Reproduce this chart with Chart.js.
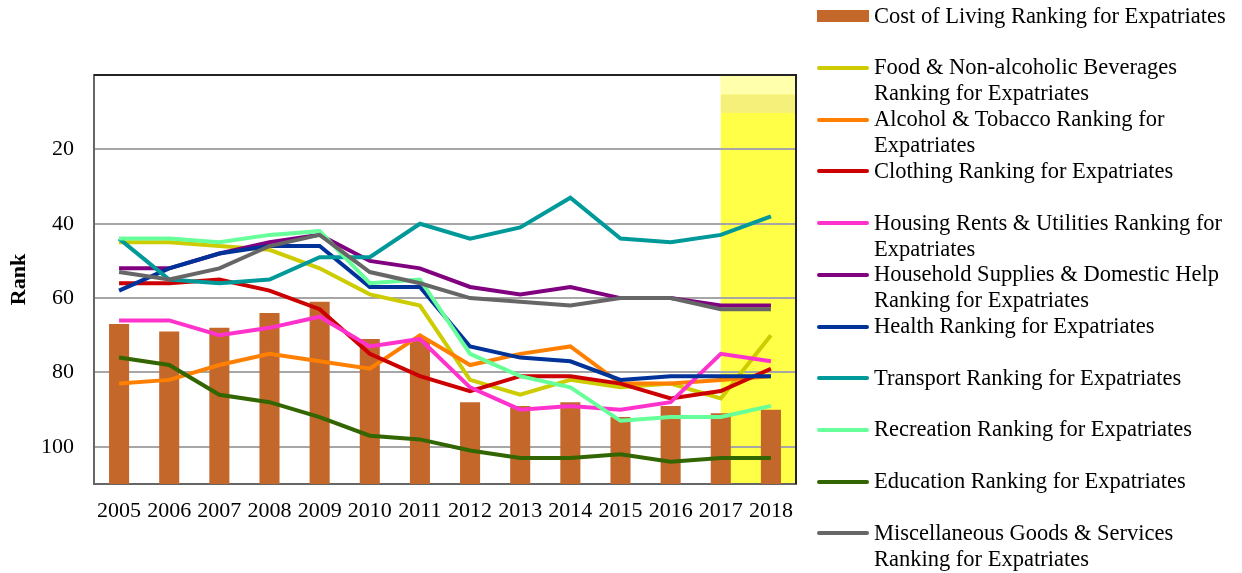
<!DOCTYPE html>
<html><head><meta charset="utf-8">
<script src="https://cdn.jsdelivr.net/npm/chart.js@4.4.1/dist/chart.umd.min.js"></script>
<style>
html,body{margin:0;padding:0;background:#fff;}
#wrap{position:relative;width:1242px;height:573px;overflow:hidden;}
canvas{position:absolute;left:0;top:0;}
.lg{position:absolute;left:874px;font-family:"Liberation Serif","Times New Roman",serif;font-size:22.5px;line-height:26px;color:#000;white-space:nowrap;}
.sw{position:absolute;left:817px;width:52px;height:4px;border-radius:2px;}
</style></head><body>
<div id="wrap"><canvas id="c" width="1242" height="573"></canvas><div id="legend"></div></div>
<script>
const years = ['2005','2006','2007','2008','2009','2010','2011','2012','2013','2014','2015','2016','2017','2018'];
const costOfLiving = [67,69,68,64,61,71,71,88,89,88,92,89,91,90];
const food       = [45,45,46,47,52,59,62,82,86,82,84,83,87,70];
const alcohol    = [83,82,78,75,77,79,70,78,75,73,83,83,82,81];
const clothing   = [56,56,55,58,63,75,81,85,81,81,83,87,85,79];
const housing    = [66,66,70,68,65,73,71,84,90,89,90,88,75,77];
const household  = [52,52,48,45,43,50,52,57,59,57,60,60,62,62];
const health     = [58,52,48,46,46,57,57,73,76,77,82,81,81,81];
const transport  = [44,55,56,55,49,49,40,44,41,33,44,45,43,38];
const recreation = [44,44,45,43,42,56,55,75,81,84,93,92,92,89];
const education  = [76,78,86,88,92,97,98,101,103,103,102,104,103,103];
const misc       = [53,55,52,46,43,53,56,60,61,62,60,60,63,63];
const yTicks = [20,40,60,80,100];
const highlightFrom = '2017';

const barLabel = 'Cost of Living Ranking for Expatriates';
const lineLabels = [
  'Food & Non-alcoholic Beverages\nRanking for Expatriates',
  'Alcohol & Tobacco Ranking for\nExpatriates',
  'Clothing Ranking for Expatriates',
  'Housing Rents & Utilities Ranking for\nExpatriates',
  'Household Supplies & Domestic Help\nRanking for Expatriates',
  'Health Ranking for Expatriates',
  'Transport Ranking for Expatriates',
  'Recreation Ranking for Expatriates',
  'Education Ranking for Expatriates',
  'Miscellaneous Goods & Services\nRanking for Expatriates'
];
const lineSeries = [food, alcohol, clothing, housing, household, health, transport, recreation, education, misc];
const lineColors = ['#cccc00','#ff8000','#cc0000','#ff33cc','#800080','#003399','#009999','#66ff99','#336600','#666666'];
const barColor = '#c4672b';

const FONT = '"Liberation Serif","Times New Roman",serif';
Chart.defaults.font.family = FONT;
Chart.defaults.color = '#000';

const datasets = [{
  type:'bar', label: barLabel,
  data: costOfLiving.map(v => [110, v]),
  backgroundColor: barColor, borderWidth: 0,
  barPercentage: 0.4, categoryPercentage: 1.0, order: 100
}];
lineSeries.forEach((s, i) => {
  datasets.push({
    type:'line', label: lineLabels[i].replace('\n',' '), data: s,
    borderColor: lineColors[i], backgroundColor: lineColors[i],
    borderWidth: 4, pointRadius: 0, tension: 0, fill: false,
    order: 50 - i, borderJoinStyle: 'miter'
  });
});

const highlight = {
  id: 'hl',
  beforeDraw(chart) {
    const {ctx, chartArea: a, scales: {x, y}} = chart;
    const x0 = x.getPixelForValue(years.indexOf(highlightFrom));
    ctx.save();
    ctx.fillStyle = '#ffff47';
    ctx.fillRect(x0, a.top, a.right - x0, a.bottom - a.top);
    const y5 = y.getPixelForValue(5.3), y10 = y.getPixelForValue(10.2);
    ctx.fillStyle = '#ffffac';
    ctx.fillRect(x0, a.top, a.right - x0, y5 - a.top);
    ctx.fillStyle = '#f5f07a';
    ctx.fillRect(x0, y5, a.right - x0, y10 - y5);
    ctx.restore();
  },
  beforeDatasetsDraw(chart) {
    const {ctx, chartArea: a} = chart;
    ctx.save();
    ctx.strokeStyle = '#222';
    ctx.lineWidth = 2;
    ctx.beginPath();
    ctx.moveTo(a.left, a.top);
    ctx.lineTo(a.right, a.top);
    ctx.lineTo(a.right, a.bottom);
    ctx.stroke();
    ctx.restore();
  }
};

new Chart(document.getElementById('c'), {
  data: { labels: years, datasets },
  options: {
    responsive: false, animation: false,
    layout: { padding: { top: 75, right: 446, left: 0, bottom: 0 } },
    plugins: { legend: { display: false }, tooltip: { enabled: false } },
    scales: {
      x: {
        offset: true,
        grid: { display: false, drawTicks: false },
        border: { color: '#666', width: 2 },
        ticks: { padding: 14, font: { size: 22 }, color: '#000', maxRotation: 0, autoSkip: false },
        afterFit: s => { s.height = 89; }
      },
      y: {
        reverse: true, min: 0, max: 110,
        afterBuildTicks: s => { s.ticks = yTicks.map(v => ({ value: v })); },
        afterFit: s => { s.width = 94; },
        grid: { color: '#a6a6a6', lineWidth: 2, drawTicks: false },
        border: { color: '#666', width: 2 },
        ticks: { padding: 20, color: '#000', font: { size: 22 } },
        title: { display: true, text: 'Rank', color: '#000', font: { size: 22, weight: 'bold' }, padding: { top: 6, bottom: 0 } }
      }
    }
  },
  plugins: [highlight]
});

// legend
const lg = document.getElementById('legend');
const items = [{ label: barLabel, color: barColor, bar: true }].concat(
  lineLabels.map((l, i) => ({ label: l, color: lineColors[i], bar: false })));
items.forEach((it, i) => {
  const baseline = 23.3 + 51.7 * i;
  const sw = document.createElement('div');
  sw.className = 'sw';
  sw.style.background = it.color;
  if (it.bar) { sw.style.top = (baseline - 13.5) + 'px'; sw.style.height = '12px'; sw.style.borderRadius = '0'; }
  else { sw.style.top = (baseline - 9) + 'px'; }
  lg.appendChild(sw);
  const t = document.createElement('div');
  t.className = 'lg';
  t.style.top = (baseline - 20.6) + 'px';
  it.label.split('\n').forEach((line, k) => {
    if (k) t.appendChild(document.createElement('br'));
    t.appendChild(document.createTextNode(line));
  });
  lg.appendChild(t);
});
</script>
</body></html>
